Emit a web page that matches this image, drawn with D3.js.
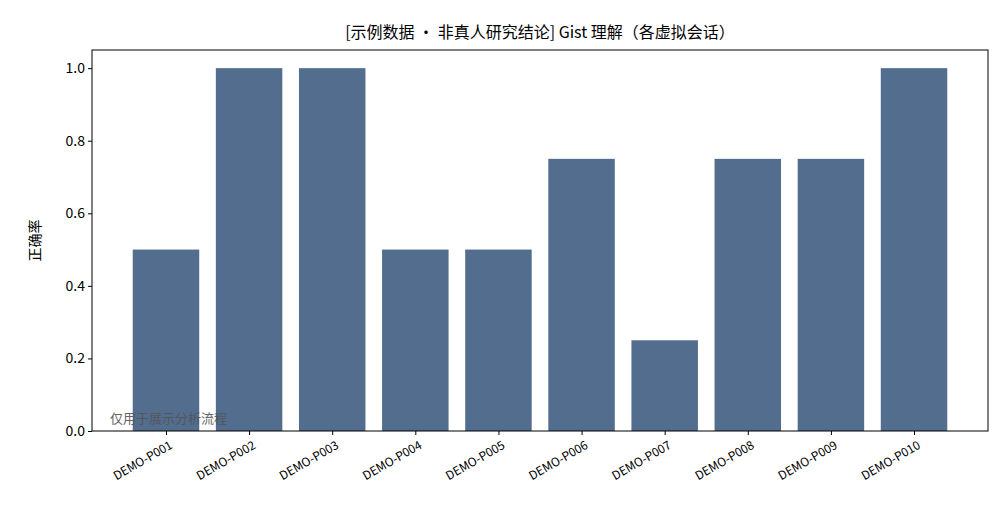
<!DOCTYPE html>
<meta charset="utf-8">
<body style="margin:0;background:white">
  <div id="content"></div>
</body>
<script src="https://d3js.org/d3.v7.min.js"></script>
<script>
// data
var categories = ['DEMO-P001','DEMO-P002','DEMO-P003','DEMO-P004','DEMO-P005','DEMO-P006','DEMO-P007','DEMO-P008','DEMO-P009','DEMO-P010'];
var accuracy = [0.5, 1.0, 1.0, 0.5, 0.5, 0.75, 0.25, 0.75, 0.75, 1.0];
var yTicks = [0, 0.2, 0.4, 0.6, 0.8, 1.0];

var chart = { width: 1008, height: 532, left: 92, right: 988, top: 50, bottom: 431 };
var font = '"Noto Sans CJK SC", "DejaVu Sans", sans-serif';

var svg = d3.select('#content').append('svg')
    .attr('width', chart.width).attr('height', chart.height)
    .style('font-family', font);

// index scale, matplotlib-style margins around the bars
var x = d3.scaleLinear().domain([-0.89, 9.89]).range([chart.left, chart.right]);
var y = d3.scaleLinear().domain([0, 1.05]).range([chart.bottom, chart.top]);
var barW = x(0.8) - x(0);

svg.selectAll('rect.bar').data(accuracy).enter().append('rect')
    .attr('class', 'bar')
    .attr('x', function (d, i) { return x(i) - barW / 2; })
    .attr('y', function (d) { return y(d); })
    .attr('width', barW)
    .attr('height', function (d) { return y(0) - y(d); })
    .attr('fill', '#536d8e');

// y axis
var yAxis = svg.append('g').attr('transform', 'translate(' + chart.left + ',0)')
    .call(d3.axisLeft(y).tickValues(yTicks).tickFormat(d3.format('.1f')).tickSize(4).tickSizeOuter(0));
yAxis.selectAll('text').style('font-size', '14px').style('font-family', font).attr('fill', '#000');
yAxis.select('.domain').remove();

// x axis
var xAxis = svg.append('g').attr('transform', 'translate(0,' + chart.bottom + ')')
    .call(d3.axisBottom(x).tickValues(d3.range(categories.length))
        .tickFormat(function (i) { return categories[i]; }).tickSize(4).tickSizeOuter(0));
xAxis.select('.domain').remove();
xAxis.selectAll('text')
    .style('font-size', '12px').style('font-family', font).attr('fill', '#000')
    .attr('text-anchor', 'end')
    .attr('transform', 'rotate(-30)')
    .attr('dx', '-0.2em').attr('dy', '0.9em');

// frame
svg.append('rect')
    .attr('x', chart.left).attr('y', chart.top)
    .attr('width', chart.right - chart.left).attr('height', chart.bottom - chart.top)
    .attr('fill', 'none').attr('stroke', '#000').attr('stroke-width', 1);

svg.append('text')
    .attr('x', (chart.left + chart.right) / 2).attr('y', 38)
    .attr('text-anchor', 'middle').style('font-size', '16px')
    .text('[示例数据 · 非真人研究结论] Gist 理解（各虚拟会话）');

svg.append('text')
    .attr('transform', 'translate(40,' + (chart.top + chart.bottom) / 2 + ') rotate(-90)')
    .attr('text-anchor', 'middle').style('font-size', '14px')
    .text('正确率');

svg.append('text')
    .attr('x', 110).attr('y', 423)
    .style('font-size', '13px').attr('fill', '#555').attr('opacity', 0.9)
    .text('仅用于展示分析流程');
</script>
